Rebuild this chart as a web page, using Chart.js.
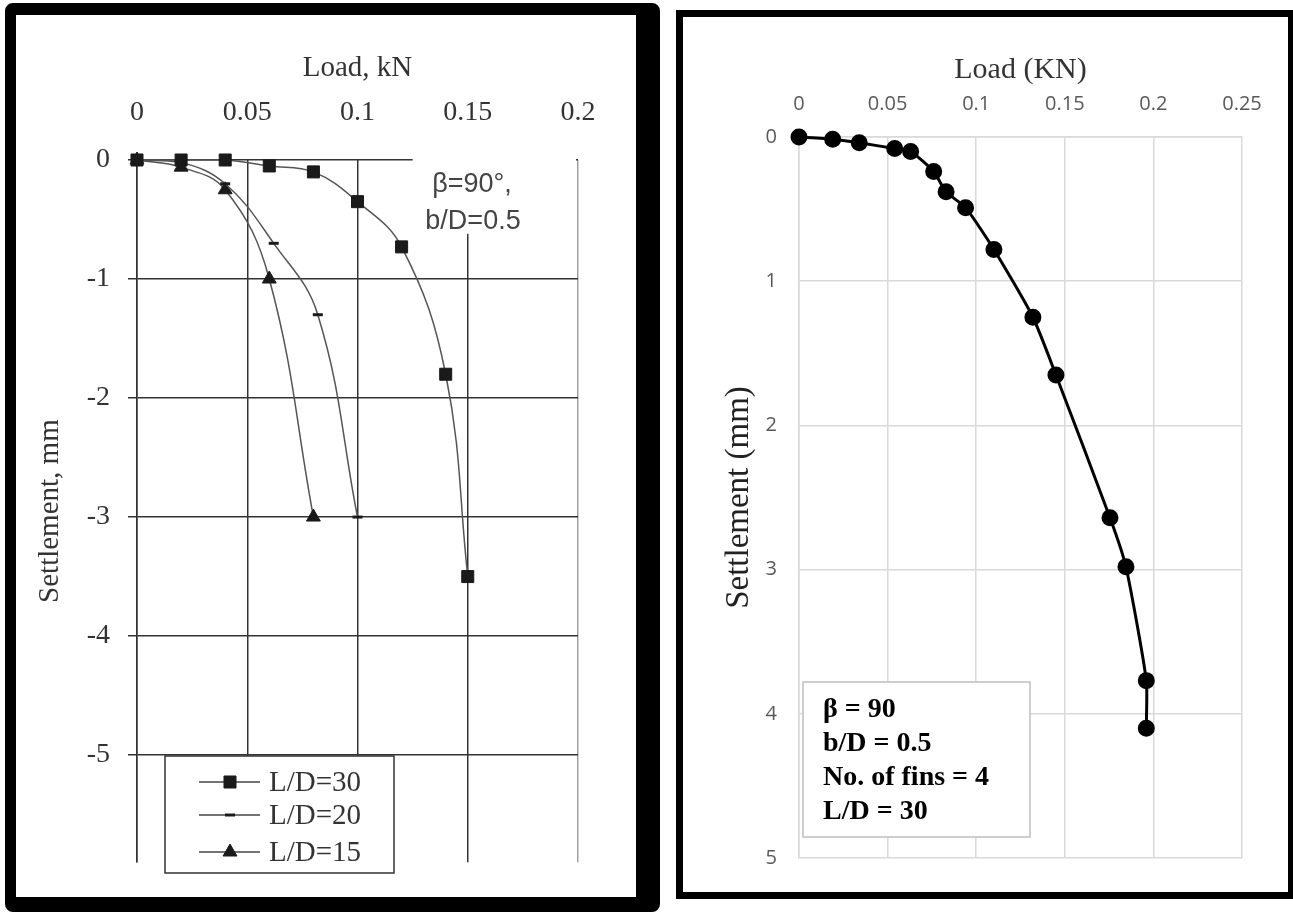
<!DOCTYPE html>
<html>
<head>
<meta charset="utf-8">
<script src="https://cdn.jsdelivr.net/npm/chart.js@4"></script>
<style>
  html, body { margin: 0; padding: 0; background: #fff; overflow: hidden; }
  .panel { position: absolute; border-style: solid; border-color: #000; background: #fff; }
  #leftPanel { left: 5px; top: 3px; width: 620px; height: 882px; border-width: 12px 24px 15px 11px; border-radius: 8px; }
  #rightPanel { left: 676px; top: 10px; width: 605px; height: 875px; border-width: 7px; }
  canvas { display: block; }
</style>
</head>
<body>
<div class="panel" id="leftPanel"><canvas id="leftChart" width="620" height="882"></canvas></div>
<div class="panel" id="rightPanel"><canvas id="rightChart" width="605" height="875"></canvas></div>
<script>
    // left figure: three L/D curves
    const load30 = [0, 0.02, 0.04, 0.06, 0.08, 0.1, 0.12, 0.14, 0.15];
    const settle30 = [0, 0, 0, -0.05, -0.1, -0.35, -0.73, -1.8, -3.5];
    const load20 = [0, 0.02, 0.04, 0.062, 0.082, 0.1];
    const settle20 = [0, -0.02, -0.2, -0.7, -1.3, -3.0];
    const load15 = [0, 0.02, 0.04, 0.06, 0.08];
    const settle15 = [0, -0.06, -0.25, -1.0, -3.0];
    const leftLabels = ['L/D=30', 'L/D=20', 'L/D=15'];

    // right figure: single curve
    const loadR = [0, 0.019, 0.034, 0.054, 0.063, 0.076, 0.083, 0.094, 0.110, 0.132, 0.145, 0.1755, 0.1845, 0.196, 0.196];
    const settleR = [0, 0.015, 0.04, 0.08, 0.10, 0.24, 0.38, 0.49, 0.78, 1.25, 1.65, 2.64, 2.98, 3.77, 4.10];
    const rightNotes = ['β = 90', 'b/D = 0.5', 'No. of fins = 4', 'L/D = 30'];

    const SERIF = '"Liberation Serif", "Times New Roman", serif';
    const SANS = '"Liberation Sans", Arial, sans-serif';

    const pts = (xs, ys) => xs.map((x, i) => ({x: x, y: ys[i]}));
    const shortNum = (v) => String(+Number(v).toFixed(2));

    const leftStyles = [
        {pointStyle: 'rect', radius: 8.5, borderWidth: 1},
        {pointStyle: 'line', radius: 5, borderWidth: 3},
        {pointStyle: 'triangle', radius: 8, borderWidth: 1}
    ];
    const leftData = [pts(load30, settle30), pts(load20, settle20), pts(load15, settle15)];

    const leftDecor = {
        id: 'leftDecor',
        beforeDatasetsDraw(chart) {
            const {ctx, scales: {x, y}, chartArea} = chart;
            // white patch behind the annotation
            const l = x.getPixelForValue(0.125), r = x.getPixelForValue(0.2) - 2;
            const t = chartArea.top - 6, b = y.getPixelForValue(-0.62);
            ctx.save();
            ctx.fillStyle = '#fff';
            ctx.fillRect(l, t, r - l, b - t);
            ctx.fillStyle = '#444';
            ctx.font = '27px ' + SANS;
            ctx.textAlign = 'center';
            ctx.textBaseline = 'middle';
            ctx.fillText('β=90°,', 456, 170);
            ctx.fillText('b/D=0.5', 457, 207);
            ctx.restore();
        },
        afterDatasetsDraw(chart) {
            const ctx = chart.ctx;
            ctx.save();
            ctx.fillStyle = '#fff';
            ctx.strokeStyle = '#333';
            ctx.lineWidth = 1.5;
            ctx.fillRect(149, 741, 229, 117);
            ctx.strokeRect(149, 741, 229, 117);
            const rows = [767, 800, 837];
            ctx.font = '29px ' + SERIF;
            ctx.textBaseline = 'middle';
            leftLabels.forEach((lab, i) => {
                const yy = rows[i];
                ctx.strokeStyle = '#444';
                ctx.lineWidth = 1.5;
                ctx.beginPath();
                ctx.moveTo(183, yy);
                ctx.lineTo(244, yy);
                ctx.stroke();
                ctx.fillStyle = '#1a1a1a';
                ctx.strokeStyle = '#1a1a1a';
                ctx.lineWidth = leftStyles[i].borderWidth;
                Chart.helpers.drawPoint(ctx, {pointStyle: leftStyles[i].pointStyle, radius: leftStyles[i].radius, rotation: 0, borderWidth: leftStyles[i].borderWidth}, 214, yy);
                ctx.fillStyle = '#333';
                ctx.fillText(lab, 253, yy + 1);
            });
            ctx.restore();
        }
    };

    new Chart(document.getElementById('leftChart'), {
        type: 'scatter',
        data: {
            datasets: leftData.map((d, i) => ({
                label: leftLabels[i],
                data: d,
                showLine: true,
                clip: false,
                tension: 0.4,
                borderColor: '#555',
                borderWidth: 1.5,
                pointStyle: leftStyles[i].pointStyle,
                pointRadius: leftStyles[i].radius,
                pointBorderWidth: leftStyles[i].borderWidth,
                pointBackgroundColor: '#1a1a1a',
                pointBorderColor: '#1a1a1a'
            }))
        },
        options: {
            responsive: false,
            animation: false,
            layout: {padding: {left: 0, top: 0, right: 58, bottom: 12}},
            plugins: {legend: {display: false}, tooltip: {enabled: false}},
            scales: {
                x: {
                    type: 'linear',
                    position: 'top',
                    min: 0,
                    max: 0.2,
                    afterFit: (s) => { s.height = 145; },
                    ticks: {stepSize: 0.05, callback: shortNum, color: '#333', font: {family: SERIF, size: 28}, padding: 31},
                    grid: {
                        drawTicks: false,
                        lineWidth: 1.5,
                        color: (c) => (c.tick && c.tick.value > 0.19) ? '#a0a0a0' : '#333'
                    },
                    border: {display: false},
                    title: {display: true, text: 'Load, kN', color: '#333', font: {family: SERIF, size: 29}, padding: {top: 36, bottom: 0}}
                },
                y: {
                    type: 'linear',
                    min: -5.9,
                    max: 0,
                    afterFit: (s) => { s.width = 121; },
                    afterBuildTicks: (s) => { s.ticks = s.ticks.filter(t => Number.isInteger(t.value)); },
                    ticks: {stepSize: 1, color: '#333', font: {family: SERIF, size: 28}, padding: 18},
                    grid: {drawTicks: true, tickLength: 9, lineWidth: 1.5, color: '#333', tickColor: '#333'},
                    border: {display: true, color: '#333', width: 1.5},
                    title: {display: true, text: 'Settlement, mm', color: '#333', font: {family: SERIF, size: 29}, padding: {top: 17, bottom: 0}}
                }
            }
        },
        plugins: [leftDecor]
    });

    const rightDecor = {
        id: 'rightDecor',
        afterDraw(chart) {
            const ctx = chart.ctx;
            ctx.save();
            ctx.fillStyle = '#fff';
            ctx.strokeStyle = '#bfbfbf';
            ctx.lineWidth = 1.5;
            ctx.fillRect(120, 665, 227, 155);
            ctx.strokeRect(120, 665, 227, 155);
            ctx.fillStyle = '#000';
            ctx.font = 'bold 28px ' + SERIF;
            ctx.textBaseline = 'middle';
            const rows = [693, 727, 761, 795];
            rightNotes.forEach((t, i) => ctx.fillText(t, 140, rows[i]));
            ctx.restore();
        }
    };

    new Chart(document.getElementById('rightChart'), {
        type: 'scatter',
        data: {
            datasets: [{
                label: 'L/D = 30',
                data: pts(loadR, settleR),
                showLine: true,
                clip: false,
                tension: 0.2,
                borderColor: '#000',
                borderWidth: 3,
                pointRadius: 7,
                pointBackgroundColor: '#000',
                pointBorderColor: '#000'
            }]
        },
        options: {
            responsive: false,
            animation: false,
            layout: {padding: {left: 0, top: 0, right: 46, bottom: 25}},
            plugins: {legend: {display: false}, tooltip: {enabled: false}},
            scales: {
                x: {
                    type: 'linear',
                    position: 'top',
                    min: 0,
                    max: 0.25,
                    afterFit: (s) => { s.height = 120; },
                    ticks: {stepSize: 0.05, callback: shortNum, color: '#595959', font: {family: '"Open Sans", sans-serif', size: 20}, padding: 21},
                    grid: {drawTicks: false, lineWidth: 1.5, color: '#d9d9d9'},
                    border: {display: true, color: '#d9d9d9', width: 1.5},
                    title: {display: true, text: 'Load (KN)', color: '#333', font: {family: SERIF, size: 30}, padding: {top: 35, bottom: 0}}
                },
                y: {
                    type: 'linear',
                    reverse: true,
                    min: 0,
                    max: 5,
                    afterFit: (s) => { s.width = 116; },
                    ticks: {stepSize: 1, color: '#595959', font: {family: '"Open Sans", sans-serif', size: 20}, padding: 22},
                    grid: {drawTicks: false, lineWidth: 1.5, color: '#d9d9d9'},
                    border: {display: true, color: '#d9d9d9', width: 1.5},
                    title: {display: true, text: 'Settlement (mm)', color: '#222', font: {family: SERIF, size: 33}, padding: {top: 37, bottom: 0}}
                }
            }
        },
        plugins: [rightDecor]
    });
</script>
</body>
</html>
